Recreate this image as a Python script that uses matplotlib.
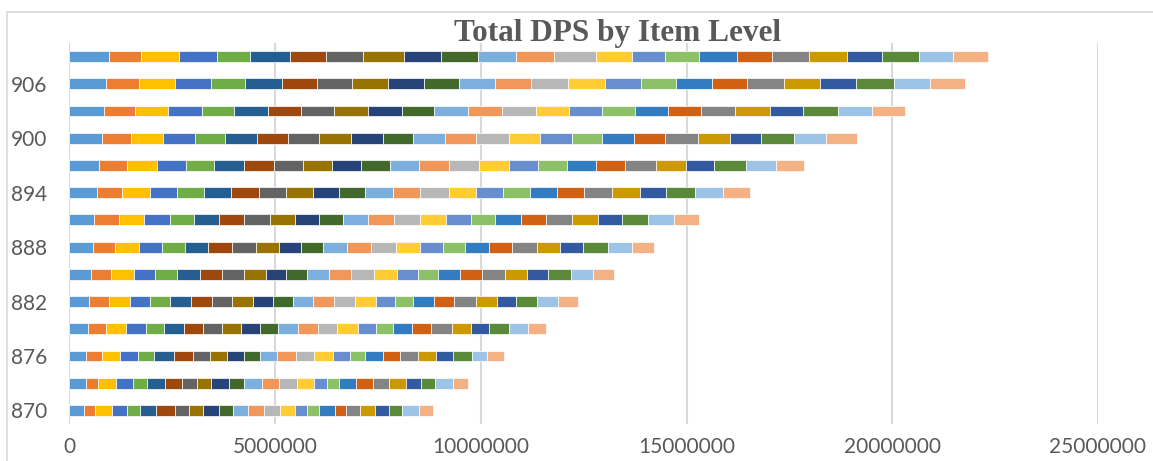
import numpy as np
import matplotlib.pyplot as plt
from matplotlib.patches import Rectangle

# item levels on the category axis (bottom to top)
item_levels = [870, 873, 876, 879, 882, 885, 888, 891, 894, 897, 900, 903, 906, 909]

# DPS per segment, in thousands (25 stacked segments per bar)
ilvl_870 = [365, 267, 403, 365, 326, 379, 454, 347, 340, 382, 340, 372, 389,
            389, 374, 282, 284, 389, 275, 350, 347, 340, 323, 413, 350]
ilvl_873 = [403, 301, 437, 403, 340, 430, 413, 365, 357, 420, 372, 437, 430,
            437, 413, 309, 299, 406, 403, 406, 396, 382, 340, 437, 365]
ilvl_876 = [413, 372, 445, 437, 399, 486, 445, 420, 423, 403, 382, 420, 454,
            437, 469, 406, 382, 420, 413, 437, 445, 413, 454, 372, 413]
ilvl_879 = [452, 447, 486, 469, 454, 476, 454, 462, 479, 452, 437, 479, 486,
            462, 518, 437, 406, 479, 462, 493, 462, 437, 486, 462, 445]
ilvl_882 = [486, 469, 510, 486, 486, 527, 501, 486, 520, 476, 479, 486, 518,
            503, 518, 454, 454, 501, 486, 527, 510, 462, 527, 501, 479]
ilvl_885 = [518, 503, 542, 527, 535, 542, 542, 527, 535, 503, 501, 535, 535,
            559, 552, 510, 503, 525, 535, 559, 544, 501, 552, 542, 520]
ilvl_888 = [566, 535, 583, 559, 566, 569, 583, 573, 552, 542, 544, 573, 576,
            608, 590, 552, 552, 573, 559, 608, 569, 549, 600, 583, 552]
ilvl_891 = [608, 590, 615, 625, 583, 615, 617, 615, 615, 583, 576, 615, 632,
            625, 649, 590, 600, 615, 608, 632, 639, 576, 649, 632, 590]
ilvl_894 = [663, 615, 673, 673, 639, 656, 680, 656, 663, 632, 642, 663, 656,
            705, 673, 656, 656, 646, 656, 697, 673, 639, 705, 680, 639]
ilvl_897 = [712, 680, 729, 705, 697, 719, 729, 697, 712, 697, 705, 705, 729,
            746, 729, 695, 714, 712, 705, 736, 729, 697, 770, 736, 680]
ilvl_900 = [785, 705, 778, 778, 729, 785, 753, 746, 785, 770, 736, 770, 770,
            785, 770, 761, 736, 770, 761, 795, 785, 746, 802, 785, 746]
ilvl_903 = [833, 753, 809, 819, 785, 819, 809, 802, 826, 819, 785, 819, 826,
            843, 809, 802, 785, 819, 802, 826, 843, 809, 851, 826, 802]
ilvl_906 = [889, 802, 868, 882, 836, 889, 851, 843, 882, 868, 851, 875, 875,
            906, 909, 875, 841, 875, 851, 892, 892, 858, 923, 882, 843]
ilvl_909 = [955, 785, 916, 923, 819, 955, 882, 892, 1004, 892, 899, 940, 914,
            1013, 875, 802, 826, 931, 851, 899, 916, 858, 892, 833, 851]

seg_colors = ['#5B9BD5', '#ED7D31', '#FFC000', '#4472C4', '#70AD47', '#255E91',
              '#9E480E', '#636363', '#997300', '#264478', '#43682B', '#7CAFDD',
              '#F1975A', '#B7B7B7', '#FFCD33', '#698ED0', '#8CC168', '#327DC2',
              '#D26012', '#848484', '#CC9A00', '#335AA1', '#5A8A39', '#9DC3E6',
              '#F4B183']

rows = [ilvl_870, ilvl_873, ilvl_876, ilvl_879, ilvl_882, ilvl_885, ilvl_888,
        ilvl_891, ilvl_894, ilvl_897, ilvl_900, ilvl_903, ilvl_906, ilvl_909]
data = np.array(rows, dtype=float) * 1000

W, H = 1153, 461
fig = plt.figure(figsize=(W / 100, H / 100), dpi=100)
ax = fig.add_axes([69.3 / W, 1 - 424 / H, (1098 - 69.3) / W, (424 - 43) / H])

y = np.arange(len(item_levels))
left = np.zeros(len(item_levels))
for j in range(data.shape[1]):
    ax.barh(y, data[:, j], left=left, height=0.4, color=seg_colors[j],
            edgecolor='white', linewidth=0.5)
    left += data[:, j]

ax.set_xlim(0, 25000000)
ax.set_ylim(-0.5, len(item_levels) - 0.5)
ax.set_xticks(range(0, 25000001, 5000000))
ax.xaxis.set_major_formatter(lambda v, p: str(int(v)))
ax.set_yticks(y[::2])
ax.set_yticklabels([str(v) for v in item_levels[::2]])
ax.grid(axis='x', color='#D9D9D9', linewidth=1.5)
ax.set_axisbelow(True)
for s in ax.spines.values():
    s.set_visible(False)
ax.tick_params(length=0, labelsize=15, colors='#595959')
ax.tick_params(axis='x', pad=9)
ax.tick_params(axis='y', pad=16)
for lab in ax.get_xticklabels() + ax.get_yticklabels():
    lab.set_family('Lato')

fig.text(618 / W, 1 - 34 / H, 'Total DPS by Item Level', family='Liberation Serif',
         weight='bold', fontsize=22.5, color='#595959', ha='center', va='center')

# chart area border
fig.add_artist(Rectangle((7 / W, -0.1), 1.2, 1.1 - 12 / H, transform=fig.transFigure,
                         fill=False, edgecolor='#D9D9D9', linewidth=1.2))

plt.savefig('out.png')
